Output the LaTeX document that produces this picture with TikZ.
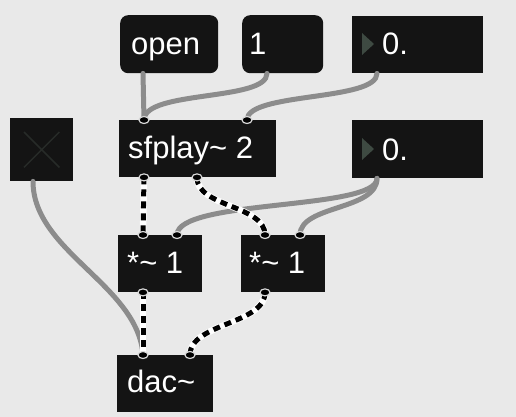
\documentclass[tikz,border=0pt]{standalone}
\usepackage{fontspec}
\setmainfont{Liberation Sans}
\usetikzlibrary{calc}
\definecolor{bgc}{HTML}{E9E9E9}
\definecolor{boxc}{HTML}{141414}
\definecolor{cordc}{HTML}{8C8C8C}
\definecolor{tric}{HTML}{3E4A42}
\definecolor{ringc}{HTML}{D8D8D8}
\definecolor{xc}{HTML}{272B28}
\begin{document}
\begin{tikzpicture}[x=1pt,y=-1pt,
  obj/.style={fill=boxc, draw=none, anchor=north west, inner sep=0pt},
  msg/.style={obj, rounded corners=8pt},
  lbl/.style={anchor=base west, inner sep=0pt, text=white, font=\fontsize{31}{37}\selectfont},
  cord/.style={draw=cordc, line width=5pt, line cap=round},
  sigbg/.style={draw=white, line width=6.5pt},
  sigfg/.style={draw=black, line width=5pt, dash pattern=on 7pt off 5pt},
  port/.style={fill=black, draw=ringc, line width=1.2pt},
  tri/.style={fill=tric, draw=none}]
\fill[bgc] (0,0) rectangle (516,417);
\useasboundingbox (0,0) rectangle (516,417);

% boxes
\node[msg, minimum width=98pt, minimum height=58pt] (open) at (120,15) {};
\node[msg, minimum width=81pt, minimum height=58pt] (one) at (242,15) {};
\node[obj, minimum width=131pt, minimum height=57pt] (numA) at (352,16) {};
\node[obj, minimum width=63pt, minimum height=63pt] (tog) at (10,118) {};
\node[obj, minimum width=157pt, minimum height=57pt] (sf) at (119,120) {};
\node[obj, minimum width=131pt, minimum height=58pt] (numB) at (352,120) {};
\node[obj, minimum width=84pt, minimum height=57pt] (mulL) at (118,235) {};
\node[obj, minimum width=84pt, minimum height=57pt] (mulR) at (241,235) {};
\node[obj, minimum width=96pt, minimum height=57pt] (dac) at (117,355) {};

% ports
\coordinate (openO) at ($(open.south west)+(23,0)$);
\coordinate (oneO) at ($(one.south west)+(25,0)$);
\coordinate (numAO) at ($(numA.south west)+(25,0)$);
\coordinate (togO) at ($(tog.south west)+(23,0)$);
\coordinate (numBO) at ($(numB.south west)+(25,0)$);
\coordinate (sfI1) at ($(sf.north west)+(25,0)$);
\coordinate (sfI2) at ($(sf.north west)+(128,0)$);
\coordinate (sfO1) at ($(sf.south west)+(25,0)$);
\coordinate (sfO2) at ($(sf.south west)+(78,0)$);
\coordinate (mLI1) at ($(mulL.north west)+(25,0)$);
\coordinate (mLI2) at ($(mulL.north west)+(59,0)$);
\coordinate (mLO) at ($(mulL.south west)+(25,0)$);
\coordinate (mRI1) at ($(mulR.north west)+(24,0)$);
\coordinate (mRI2) at ($(mulR.north west)+(59,0)$);
\coordinate (mRO) at ($(mulR.south west)+(24,0)$);
\coordinate (dacI1) at ($(dac.north west)+(26,0)$);
\coordinate (dacI2) at ($(dac.north west)+(73,0)$);

% control cords
\draw[cord] (openO) -- (sfI1);
\draw[cord] (oneO) .. controls ($(oneO)+(0,28)$) and ($(sfI1)+(0,-30)$) .. (sfI1);
\draw[cord] (numAO) .. controls ($(numAO)+(0,28)$) and ($(sfI2)+(0,-28)$) .. (sfI2);
\draw[cord] (numBO) .. controls ($(numBO)+(0,32)$) and ($(mLI2)+(0,-36)$) .. (mLI2);
\draw[cord] (numBO) .. controls ($(numBO)+(0,32)$) and ($(mRI2)+(0,-30)$) .. (mRI2);
\draw[cord] (togO) .. controls ($(togO)+(0,70)$) and ($(dacI1)+(-5,-70)$) .. (dacI1);

% signal cords
\draw[sigbg] (sfO1) -- (mLI1);
\draw[sigfg] (sfO1) -- (mLI1);
\draw[sigbg] (sfO2) .. controls ($(sfO2)+(0,30)$) and ($(mRI1)+(0,-30)$) .. (mRI1);
\draw[sigfg] (sfO2) .. controls ($(sfO2)+(0,30)$) and ($(mRI1)+(0,-30)$) .. (mRI1);
\draw[sigbg] (mLO) -- (dacI1);
\draw[sigfg] (mLO) -- (dacI1);
\draw[sigbg] (mRO) .. controls ($(mRO)+(0,32)$) and ($(dacI2)+(0,-32)$) .. (dacI2);
\draw[sigfg] (mRO) .. controls ($(mRO)+(0,32)$) and ($(dacI2)+(0,-32)$) .. (dacI2);

% port markers
\foreach \p in {sfI1,sfI2,sfO1,sfO2,mLI1,mLI2,mLO,mRI1,mRI2,mRO,dacI1,dacI2}
  \draw[port] (\p) ellipse [x radius=5pt, y radius=3.5pt];

% number box triangles and toggle
\fill[tri] ($(numA.north west)+(10,17)$) -- ($(numA.north west)+(10,39)$) -- ($(numA.north west)+(22,28)$) -- cycle;
\fill[tri] ($(numB.north west)+(10,18)$) -- ($(numB.north west)+(10,40)$) -- ($(numB.north west)+(22,29)$) -- cycle;
\draw[draw=xc, line width=1.5pt] ($(tog.north west)+(14,14)$) -- ($(tog.south east)+(-14,-14)$)
  ($(tog.north east)+(-14,14)$) -- ($(tog.south west)+(14,-14)$);

% labels
\node[lbl] (openT) at ($(open.north west)+(11,40)$) {open};
\node[lbl] (oneT) at ($(one.north west)+(7,40)$) {1};
\node[lbl] (numAT) at ($(numA.north west)+(30,39)$) {0.};
\node[lbl] (sfT) at ($(sf.north west)+(9,38)$) {sfplay\char"7E\ 2};
\node[lbl] (numBT) at ($(numB.north west)+(30,40)$) {0.};
\node[lbl] (mulLT) at ($(mulL.north west)+(9,38)$) {*\char"7E\ 1};
\node[lbl] (mulRT) at ($(mulR.north west)+(8,38)$) {*\char"7E\ 1};
\node[lbl] (dacT) at ($(dac.north west)+(10,37)$) {dac\char"7E};
\end{tikzpicture}
\end{document}
